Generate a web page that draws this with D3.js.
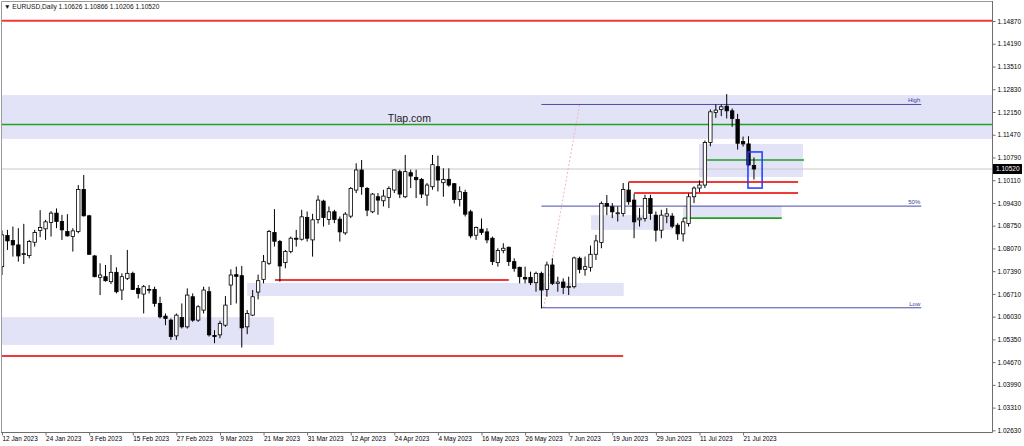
<!DOCTYPE html>
<html>
<head>
<meta charset="utf-8">
<script src="https://cdn.jsdelivr.net/npm/d3@7"></script>
<style>
  body { margin: 0; background: #fff; }
  svg text { font-family: "Liberation Sans", Arial, sans-serif; }
</style>
</head>
<body>
<div id="chart"></div>
<script>
// EURUSD daily, 12 Jan 2023 .. 25 Jul 2023 (one value per trading day)
const symbol = 'EURUSD,Daily';
const lastQuote = ['1.10626', '1.10866', '1.10206', '1.10520'];
const bid = 1.10520;

const open = [
  1.0760, 1.0853, 1.0838, 1.0825, 1.0796, 1.0793, 1.0833, 1.0868, 1.0873, 1.0892,
  1.0920, 1.0895, 1.0865, 1.0850, 1.0865, 1.0991, 1.0912, 1.0792, 1.0728, 1.0730,
  1.0715, 1.0743, 1.0690, 1.0725, 1.0740, 1.0695, 1.0678, 1.0692, 1.0692, 1.0650,
  1.0612, 1.0600, 1.0553, 1.0608, 1.0580, 1.0670, 1.0600, 1.0630, 1.0685, 1.0554,
  1.0556, 1.0585, 1.0705, 1.0736, 1.0733, 1.0580, 1.0615, 1.0684, 1.0722, 1.0770,
  1.0862, 1.0835, 1.0772, 1.0805, 1.0845, 1.0842, 1.0907, 1.0840, 1.0901, 1.0956,
  1.0901, 1.0924, 1.0902, 1.0861, 1.0911, 1.0989, 1.1049, 1.0994, 1.0924, 1.0969,
  1.0957, 1.0967, 1.0989, 1.1044, 1.0969, 1.1041, 1.1027, 1.1021, 1.0974, 1.0999,
  1.1059, 1.1011, 1.1021, 1.1008, 1.0961, 1.0982, 1.0924, 1.0854, 1.0872, 1.0864,
  1.0845, 1.0772, 1.0808, 1.0818, 1.0775, 1.0758, 1.0728, 1.0728, 1.0712, 1.0740,
  1.0692, 1.0765, 1.0710, 1.0714, 1.0698, 1.0700, 1.0785, 1.0752, 1.0758, 1.0797,
  1.0832, 1.0949, 1.0939, 1.0918, 1.0919, 1.0989, 1.0959, 1.0900, 1.0904, 1.0964,
  1.0914, 1.0869, 1.0911, 1.0911, 1.0884, 1.0858, 1.0889, 1.0969, 1.0995, 1.1004,
  1.1131, 1.1221, 1.1230, 1.1240, 1.1226, 1.1200, 1.1134, 1.1127, 1.10626
];
const high = [
  1.0868, 1.0870, 1.0880, 1.0875, 1.0888, 1.0840, 1.0870, 1.0929, 1.0900, 1.0926,
  1.0934, 1.0915, 1.0917, 1.0875, 1.1004, 1.1034, 1.0915, 1.0795, 1.0770, 1.0765,
  1.0795, 1.0758, 1.0740, 1.0810, 1.0745, 1.0705, 1.0705, 1.0705, 1.0700, 1.0670,
  1.0620, 1.0605, 1.0620, 1.0650, 1.0695, 1.0680, 1.0645, 1.0700, 1.0700, 1.0570,
  1.0598, 1.0672, 1.0752, 1.0760, 1.0762, 1.0630, 1.0690, 1.0736, 1.0795, 1.0870,
  1.0932, 1.0840, 1.0810, 1.0850, 1.0870, 1.0930, 1.0925, 1.0918, 1.0973, 1.0960,
  1.0940, 1.0930, 1.0910, 1.0923, 1.0998, 1.1069, 1.1079, 1.0998, 1.0980, 1.0980,
  1.0990, 1.1000, 1.1050, 1.1050, 1.1094, 1.1050, 1.1050, 1.1025, 1.1010, 1.1094,
  1.1092, 1.1054, 1.1054, 1.1010, 1.1000, 1.0990, 1.0930, 1.0880, 1.0904, 1.0875,
  1.0850, 1.0815, 1.0830, 1.0820, 1.0785, 1.0760, 1.0760, 1.0745, 1.0745, 1.0745,
  1.0775, 1.0785, 1.0730, 1.0725, 1.0730, 1.0790, 1.0790, 1.0790, 1.0823, 1.0855,
  1.0955, 1.0974, 1.0950, 1.0940, 1.1010, 1.1012, 1.0978, 1.0935, 1.0975, 1.0975,
  1.0925, 1.0930, 1.0935, 1.0920, 1.0890, 1.0905, 1.0979, 1.1000, 1.1018, 1.1137,
  1.1230, 1.1245, 1.1245, 1.1276, 1.1233, 1.1217, 1.1149, 1.1150, 1.10866
];
const low = [
  1.0735, 1.0810, 1.0790, 1.0775, 1.0768, 1.0785, 1.0820, 1.0848, 1.0840, 1.0850,
  1.0875, 1.0840, 1.0850, 1.0805, 1.0860, 1.0910, 1.0795, 1.0728, 1.0675, 1.0715,
  1.0708, 1.0680, 1.0660, 1.0720, 1.0690, 1.0665, 1.0620, 1.0680, 1.0640, 1.0605,
  1.0585, 1.0541, 1.0541, 1.0575, 1.0575, 1.0595, 1.0595, 1.0620, 1.0551, 1.0531,
  1.0546, 1.0580, 1.0645, 1.0650, 1.0518, 1.0558, 1.0612, 1.0662, 1.0710, 1.0765,
  1.0820, 1.0715, 1.0755, 1.0800, 1.0820, 1.0838, 1.0835, 1.0790, 1.0889, 1.0880,
  1.0885, 1.0890, 1.0835, 1.0855, 1.0905, 1.0980, 1.0975, 1.0911, 1.0920, 1.0915,
  1.0940, 1.0935, 1.0980, 1.0965, 1.0965, 1.0995, 1.0965, 1.0965, 1.0942, 1.0990,
  1.0985, 1.0969, 1.0999, 1.0949, 1.0940, 1.0910, 1.0845, 1.0840, 1.0855, 1.0830,
  1.0765, 1.0760, 1.0800, 1.0762, 1.0745, 1.0710, 1.0710, 1.0705, 1.0685, 1.0635,
  1.0670, 1.0705, 1.0685, 1.0678, 1.0675, 1.0695, 1.0740, 1.0733, 1.0745, 1.0780,
  1.0815, 1.0914, 1.0905, 1.0895, 1.0910, 1.0945, 1.0845, 1.0880, 1.0895, 1.0900,
  1.0835, 1.0845, 1.0890, 1.0875, 1.0840, 1.0835, 1.0880, 1.0950, 1.0983, 1.0995,
  1.1120, 1.1205, 1.1210, 1.1203, 1.1178, 1.1110, 1.1119, 1.1060, 1.10206
];
const close = [
  1.0855, 1.0837, 1.0825, 1.0792, 1.0799, 1.0835, 1.0862, 1.0877, 1.0894, 1.0920,
  1.0895, 1.0870, 1.0852, 1.0867, 1.0991, 1.0912, 1.0797, 1.0730, 1.0735, 1.0718,
  1.0743, 1.0685, 1.0730, 1.0740, 1.0692, 1.0680, 1.0700, 1.0690, 1.0650, 1.0610,
  1.0605, 1.0551, 1.0615, 1.0580, 1.0675, 1.0600, 1.0640, 1.0690, 1.0556, 1.0551,
  1.0590, 1.0645, 1.0735, 1.0731, 1.0577, 1.0620, 1.0670, 1.0718, 1.0775, 1.0865,
  1.0836, 1.0762, 1.0805, 1.0845, 1.0842, 1.0909, 1.0845, 1.0900, 1.0959, 1.0907,
  1.0924, 1.0901, 1.0864, 1.0917, 1.0994, 1.1049, 1.0999, 1.0929, 1.0977, 1.0959,
  1.0971, 1.0994, 1.1049, 1.0977, 1.1044, 1.1031, 1.1020, 1.0977, 1.1004, 1.1065,
  1.1019, 1.1021, 1.1004, 1.0961, 1.0984, 1.0917, 1.0852, 1.0877, 1.0862, 1.0840,
  1.0775, 1.0808, 1.0815, 1.0775, 1.0755, 1.0730, 1.0723, 1.0712, 1.0740, 1.0690,
  1.0765, 1.0710, 1.0714, 1.0698, 1.0701, 1.0786, 1.0752, 1.0760, 1.0797, 1.0837,
  1.0949, 1.0941, 1.0924, 1.0921, 1.0991, 1.0954, 1.0894, 1.0905, 1.0964, 1.0919,
  1.0869, 1.0914, 1.0918, 1.0881, 1.0858, 1.0894, 1.0969, 1.0995, 1.1004, 1.1131,
  1.1223, 1.1228, 1.1238, 1.1226, 1.1203, 1.1129, 1.1127, 1.1064, 1.10520
];

// one date label every 8 bars, starting at the first bar
const dateTicks = [
  '12 Jan 2023', '24 Jan 2023', '3 Feb 2023', '15 Feb 2023', '27 Feb 2023', '9 Mar 2023',
  '21 Mar 2023', '31 Mar 2023', '12 Apr 2023', '24 Apr 2023', '4 May 2023', '16 May 2023',
  '26 May 2023', '7 Jun 2023', '19 Jun 2023', '29 Jun 2023', '11 Jul 2023', '21 Jul 2023'
];
const priceTicks = [
  1.14870, 1.14190, 1.13510, 1.12830, 1.12150, 1.11470, 1.10790, 1.10110, 1.09430,
  1.08750, 1.08070, 1.07390, 1.06710, 1.06030, 1.05350, 1.04670, 1.03990, 1.03310, 1.02630
];

// drawn objects, in bar index / price units: [fromBar, toBar, top, bottom]
const zones = [
  [-5, 185, 1.1273, 1.1142],
  [-5, 49.9, 1.0609, 1.0526],
  [45, 114.1, 1.0711, 1.0672],
  [108.1, 123, 1.0914, 1.0870],
  [125, 143.1, 1.0942, 1.0905],
  [127.9, 147, 1.1127, 1.1028]
];
// [fromBar, toBar, price]
const redLines = [
  [-5, 185, 1.1495],
  [-5, 114, 1.0493],
  [50.1, 93, 1.0720],
  [115, 146.1, 1.1013],
  [116, 146.1, 1.0980]
];
const greenLines = [
  [-5, 185, 1.1185],
  [129.4, 147.2, 1.1079],
  [125, 143.1, 1.0905]
];
const fibLabels = ['High', '50%', 'Low'];
const fibLevels = [1.1245, 1.0941, 1.0637];
const fibBars = [99, 168.7];
const fibDiagonal = [[99.4, 1.0637], [106, 1.1245]];
const markBox = [136.9, 139.5, 1.1103, 1.0995];
const watermark = ['Tlap.com', 70.8, 1.1193];

const W = 1024, H = 446;
const plot = {left: 1, top: 1, right: 992, bottom: 432};
const barStep = 5.449;

const x = d3.scaleLinear()
  .domain([0, close.length - 1])
  .range([2, 2 + (close.length - 1) * barStep]);

const y = d3.scaleLinear()
  .domain([1.02630, 1.14870])
  .range([169 + (bid - 1.02630) * 3344, 169 - (1.14870 - bid) * 3344]);

const svg = d3.select('#chart').append('svg')
  .attr('width', W)
  .attr('height', H);

svg.append('rect').attr('width', W).attr('height', H).attr('fill', '#fff');

svg.append('clipPath').attr('id', 'clip')
  .append('rect')
  .attr('x', plot.left).attr('y', plot.top)
  .attr('width', plot.right - plot.left).attr('height', plot.bottom - plot.top);

const g = svg.append('g').attr('clip-path', 'url(#clip)');

// zones
g.selectAll('rect.zone').data(zones).join('rect')
  .attr('class', 'zone')
  .attr('x', d => x(d[0]))
  .attr('y', d => y(d[2]))
  .attr('width', d => x(d[1]) - x(d[0]))
  .attr('height', d => y(d[3]) - y(d[2]))
  .attr('fill', '#e3e3f7');

// bid line
g.append('line')
  .attr('x1', plot.left).attr('x2', plot.right)
  .attr('y1', y(bid)).attr('y2', y(bid))
  .attr('stroke', '#c8c8c8').attr('stroke-width', 1);

// fibonacci
g.append('line')
  .attr('x1', x(fibDiagonal[0][0])).attr('y1', y(fibDiagonal[0][1]))
  .attr('x2', x(fibDiagonal[1][0])).attr('y2', y(fibDiagonal[1][1]))
  .attr('stroke', '#f2b3c0').attr('stroke-width', 1)
  .attr('stroke-dasharray', '2,2');

g.selectAll('line.fib').data(fibLevels).join('line')
  .attr('class', 'fib')
  .attr('x1', x(fibBars[0])).attr('x2', x(fibBars[1]))
  .attr('y1', d => y(d)).attr('y2', d => y(d))
  .attr('stroke', '#4a4aa8').attr('stroke-width', 1);

g.selectAll('text.fib').data(fibLevels).join('text')
  .attr('class', 'fib')
  .attr('x', x(fibBars[1]) - 1)
  .attr('y', d => y(d) - 2)
  .attr('text-anchor', 'end')
  .attr('font-size', 6)
  .attr('fill', '#3a3aa0')
  .text((d, i) => fibLabels[i]);

// lines
g.selectAll('line.red').data(redLines).join('line')
  .attr('class', 'red')
  .attr('x1', d => x(d[0])).attr('x2', d => x(d[1]))
  .attr('y1', d => y(d[2])).attr('y2', d => y(d[2]))
  .attr('stroke', '#f03a3a').attr('stroke-width', 2);

g.selectAll('line.green').data(greenLines).join('line')
  .attr('class', 'green')
  .attr('x1', d => x(d[0])).attr('x2', d => x(d[1]))
  .attr('y1', d => y(d[2])).attr('y2', d => y(d[2]))
  .attr('stroke', '#25a025').attr('stroke-width', 1.6);

g.append('text')
  .attr('x', x(watermark[1]))
  .attr('y', y(watermark[2]))
  .attr('font-size', 10.5)
  .attr('fill', '#222')
  .text(watermark[0]);

// candles
const candles = g.selectAll('g.candle').data(close).join('g')
  .attr('class', 'candle');

candles.append('line')
  .attr('x1', (d, i) => x(i)).attr('x2', (d, i) => x(i))
  .attr('y1', (d, i) => y(high[i])).attr('y2', (d, i) => y(low[i]))
  .attr('stroke', '#000').attr('stroke-width', 1);

candles.append('rect')
  .attr('x', (d, i) => x(i) - 1.7)
  .attr('width', 3.4)
  .attr('y', (d, i) => y(Math.max(open[i], close[i])))
  .attr('height', (d, i) => Math.max(0.8, Math.abs(y(open[i]) - y(close[i]))))
  .attr('fill', (d, i) => close[i] >= open[i] ? '#fff' : '#000')
  .attr('stroke', '#000').attr('stroke-width', 0.8);

// selection box on the last bars
g.append('rect')
  .attr('x', x(markBox[0]))
  .attr('y', y(markBox[2]))
  .attr('width', x(markBox[1]) - x(markBox[0]))
  .attr('height', y(markBox[3]) - y(markBox[2]))
  .attr('fill', 'none')
  .attr('stroke', '#1a3cff').attr('stroke-width', 1.5);

// frame
svg.append('path')
  .attr('d', `M${plot.left + 0.5},${plot.bottom}V${plot.top + 0.5}H${plot.right}`)
  .attr('fill', 'none').attr('stroke', '#9a9a9a');
svg.append('path')
  .attr('d', `M${plot.left},${plot.bottom + 0.5}H${plot.right + 0.5}V${plot.top}`)
  .attr('fill', 'none').attr('stroke', '#6e6e6e');

// price axis
const yAxis = svg.append('g')
  .attr('transform', `translate(${plot.right + 0.5},-2.5)`)
  .call(d3.axisRight(y).tickValues(priceTicks).tickFormat(d3.format('.5f')).tickSize(3).tickPadding(2));
yAxis.select('.domain').remove();
yAxis.selectAll('line').attr('stroke', '#6e6e6e');
yAxis.selectAll('text').attr('font-size', 6.5).attr('fill', '#000')
  .attr('font-family', '"Liberation Sans", Arial, sans-serif');

// bid label
svg.append('rect')
  .attr('x', plot.right + 1).attr('y', y(bid) - 5)
  .attr('width', 29).attr('height', 10)
  .attr('fill', '#000');
svg.append('text')
  .attr('x', plot.right + 4).attr('y', y(bid) + 2.3)
  .attr('font-size', 6.5).attr('fill', '#fff')
  .text(lastQuote[3]);

// time axis
const xAxis = svg.append('g')
  .attr('transform', `translate(0,${plot.bottom + 0.5})`)
  .call(d3.axisBottom(x)
    .tickValues(dateTicks.map((d, i) => i * 8))
    .tickFormat((d, i) => dateTicks[i])
    .tickSize(3).tickPadding(1));
xAxis.select('.domain').remove();
xAxis.selectAll('line').attr('stroke', '#6e6e6e');
xAxis.selectAll('text')
  .attr('text-anchor', 'start')
  .attr('font-size', 6.4).attr('fill', '#000')
  .attr('font-family', '"Liberation Sans", Arial, sans-serif');

// header
svg.append('text')
  .attr('x', 4).attr('y', 9)
  .attr('font-size', 6.6).attr('fill', '#111')
  .text('\u25BC ' + symbol + '  ' + lastQuote.join(' '));
</script>
</body>
</html>
